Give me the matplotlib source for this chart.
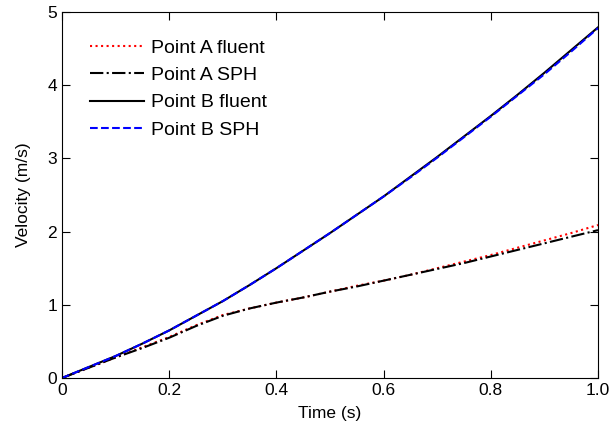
import matplotlib
matplotlib.use('Agg')
import matplotlib.pyplot as plt
import numpy as np

plt.rcParams['font.family'] = ['Liberation Sans', 'DejaVu Sans']

t = [0, 0.05, 0.1, 0.15, 0.2, 0.25, 0.3, 0.35, 0.4, 0.45, 0.5,
     0.55, 0.6, 0.65, 0.7, 0.75, 0.8, 0.85, 0.9, 0.95, 1.0]

# point A
a_fluent = [0, 0.14, 0.28, 0.42, 0.56, 0.72, 0.86, 0.95, 1.03, 1.10, 1.18,
            1.26, 1.33, 1.41, 1.50, 1.59, 1.68, 1.78, 1.88, 1.98, 2.09]
a_sph = [0, 0.14, 0.28, 0.41, 0.55, 0.71, 0.85, 0.95, 1.03, 1.10, 1.18,
         1.25, 1.33, 1.41, 1.49, 1.57, 1.66, 1.75, 1.84, 1.93, 2.02]

# point B
b_fluent = [0, 0.15, 0.30, 0.47, 0.65, 0.85, 1.05, 1.27, 1.50, 1.74, 1.98,
            2.23, 2.48, 2.75, 3.02, 3.30, 3.58, 3.87, 4.17, 4.48, 4.79]
b_sph = [0, 0.15, 0.30, 0.47, 0.65, 0.85, 1.05, 1.27, 1.50, 1.74, 1.98,
         2.23, 2.48, 2.74, 3.01, 3.29, 3.57, 3.86, 4.15, 4.46, 4.78]

fig = plt.figure(figsize=(6.11, 4.34), dpi=100)
ax = fig.add_axes([62/611, 1-378/434, 536/611, 366/434])

ax.plot(t, a_fluent, ':', color='red', lw=1.5, label='Point A fluent')
ax.plot(t, a_sph, '-.', color='black', lw=1.5, label='Point A SPH')
ax.plot(t, b_fluent, '-', color='black', lw=1.5, label='Point B fluent')
ax.plot(t, b_sph, '--', color='blue', lw=1.5, label='Point B SPH')

ax.set_xlim(0, 1.0)
ax.set_ylim(0, 5)
ax.set_xticks([0, 0.2, 0.4, 0.6, 0.8, 1.0])
ax.set_xticklabels(['0', '0.2', '0.4', '0.6', '0.8', '1.0'])
ax.set_yticks([0, 1, 2, 3, 4, 5])
ax.tick_params(direction='in', top=True, right=True, labelsize=12.5, length=6)
ax.set_xlabel('Time (s)', fontsize=12.5, labelpad=6)
ax.set_ylabel('Velocity (m/s)', fontsize=12.5, labelpad=12)
ax.legend(loc='upper left', frameon=False, fontsize=14, handlelength=2.8,
          labelspacing=0.5, handletextpad=0.36, borderpad=0, borderaxespad=0,
          bbox_to_anchor=(0.052, 0.926))

fig.savefig('out.png', dpi=100)
